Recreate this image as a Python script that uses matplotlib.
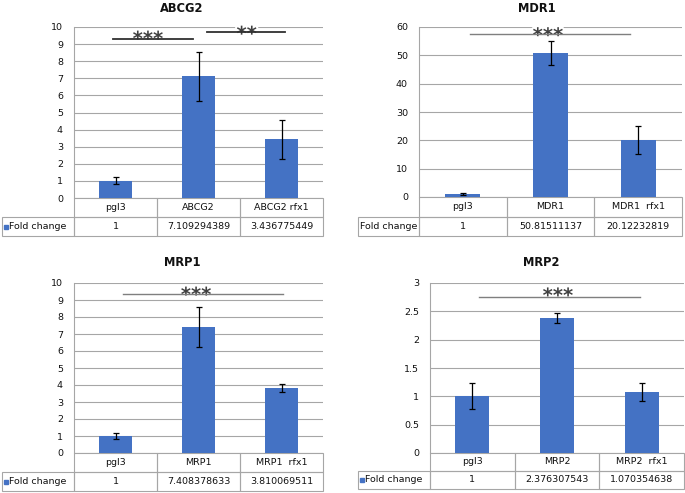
import matplotlib
matplotlib.use("Agg")
import matplotlib.pyplot as plt
import matplotlib.patheffects as pe
from matplotlib.lines import Line2D
from matplotlib.ticker import MultipleLocator, FuncFormatter

W, H = 685, 493
BLUE = "#4472C4"
GRID = "#A6A6A6"

plt.rcParams["font.family"] = ["DejaVu Sans"]

# -----------------------------
# Data
# -----------------------------

abcg2_cats = ["pgl3", "ABCG2", "ABCG2 rfx1"]
abcg2_vals = [1, 7.109294389, 3.436775449]
abcg2_errs = [0.2, 1.45, 1.15]
# (from, to, line y, star x, star y, stars)
abcg2_sigs = [(-0.03, 0.93, 9.3, 0.39, 9.65, "***"),
              (1.10, 2.04, 9.7, 1.58, 9.94, "**")]

mdr1_cats = ["pgl3", "MDR1", "MDR1  rfx1"]
mdr1_vals = [1, 50.81511137, 20.12232819]
mdr1_errs = [0.3, 4.3, 4.8]
mdr1_sigs = [(0.08, 1.91, 57.5, 0.97, 59.1, "***")]

mrp1_cats = ["pgl3", "MRP1", "MRP1  rfx1"]
mrp1_vals = [1, 7.408378633, 3.810069511]
mrp1_errs = [0.2, 1.2, 0.25]
mrp1_sigs = [(0.09, 2.02, 9.35, 0.97, 9.65, "***")]

mrp2_cats = ["pgl3", "MRP2", "MRP2  rfx1"]
mrp2_vals = [1, 2.376307543, 1.070354638]
mrp2_errs = [0.23, 0.09, 0.16]
mrp2_sigs = [(0.08, 1.98, 2.75, 1.01, 2.88, "***")]


def px_rect(l, r, t, b):
    return [l / W, 1 - b / H, (r - l) / W, (b - t) / H]


def panel(fig, title, cats, vals, errs, sigs, ymax, step,
          box, tab_left, tab_bottom, title_xy, marker, sig_color, sig_lw):

    l, r, t, b = box
    ax = fig.add_axes(px_rect(l, r, t, b))

    x = list(range(len(cats)))
    ax.bar(x, vals, width=0.4, color=BLUE, zorder=2)
    ax.errorbar(x, vals, yerr=errs, fmt="none", ecolor="black",
                elinewidth=0.9, capsize=2.5, capthick=0.9, zorder=3)

    ax.set_xlim(-0.5, len(cats) - 0.5)
    ax.set_ylim(0, ymax)
    ax.yaxis.set_major_locator(MultipleLocator(step))
    ax.yaxis.set_major_formatter(FuncFormatter(lambda v, p: f"{v:g}"))
    ax.tick_params(axis="y", length=0, pad=8, labelsize=6.8,
                   labelcolor="#111111")
    ax.set_xticks([])
    ax.yaxis.grid(True, color=GRID, linewidth=0.8, zorder=0)
    ax.set_axisbelow(True)
    for side in ["top", "right", "bottom"]:
        ax.spines[side].set_visible(False)
    ax.spines["left"].set_color(GRID)
    ax.spines["left"].set_linewidth(0.8)

    # significance bars
    fs = 14
    for x0, x1, y, sx, sy, stars in sigs:
        ax.plot([x0, x1], [y, y], color=sig_color, linewidth=sig_lw,
                zorder=4, clip_on=False)
        ax.annotate(stars, (sx, sy), xytext=(0, -0.62 * fs),
                    textcoords="offset points", ha="center", va="baseline",
                    fontsize=fs, fontweight="bold", color="#404040",
                    zorder=3.5,
                    path_effects=[pe.withStroke(linewidth=3,
                                                foreground="white")])

    # data table under the chart
    aw, ah = r - l, b - t
    cells = [[""] + cats, ["Fold change"] + [f"{v:.10g}" for v in vals]]
    first = l - tab_left
    widths = [first] + [aw / len(cats)] * len(cats)
    tab = ax.table(cellText=cells, colWidths=widths, cellLoc="center",
                   bbox=[(tab_left - l) / aw, -(tab_bottom - b) / ah,
                         (r - tab_left) / aw, (tab_bottom - b) / ah])
    tab.auto_set_font_size(False)
    tab.set_fontsize(6.8)
    for (row, col), cell in tab.get_celld().items():
        cell.set_edgecolor(GRID)
        cell.set_linewidth(0.8)
        cell.set_facecolor("none")
        cell.get_text().set_color("#111111")
    tab[0, 0].visible_edges = "open"

    row2_y = (b + tab_bottom) / 2 + (tab_bottom - b) / 4
    if marker:
        tab[1, 0]._loc = "left"
        fig.add_artist(Line2D([(tab_left + 3.5) / W], [1 - row2_y / H],
                              marker="s", markersize=3.3, color=BLUE,
                              linestyle="none", transform=fig.transFigure))

    fig.text(title_xy[0] / W, 1 - title_xy[1] / H, title, ha="center",
             va="center", fontsize=8.3, fontweight="bold", color="#111111")
    return ax


fig = plt.figure(figsize=(W / 100, H / 100), dpi=100)

panel(fig, "ABCG2", abcg2_cats, abcg2_vals, abcg2_errs, abcg2_sigs, 10, 1,
      (74, 323, 27, 198), 2, 236, (182, 8), True, "#303030", 1.3)
panel(fig, "MDR1", mdr1_cats, mdr1_vals, mdr1_errs, mdr1_sigs, 60, 10,
      (419, 682, 27, 197), 358, 236, (537, 8), False, "#7F7F7F", 1.0)
panel(fig, "MRP1", mrp1_cats, mrp1_vals, mrp1_errs, mrp1_sigs, 10, 1,
      (74, 323, 283, 453), 2, 491, (182, 263), True, "#7F7F7F", 1.0)
panel(fig, "MRP2", mrp2_cats, mrp2_vals, mrp2_errs, mrp2_sigs, 3, 0.5,
      (430, 684, 283, 453), 358, 489, (541, 263), True, "#7F7F7F", 1.0)

fig.savefig("out.png", dpi=100)
